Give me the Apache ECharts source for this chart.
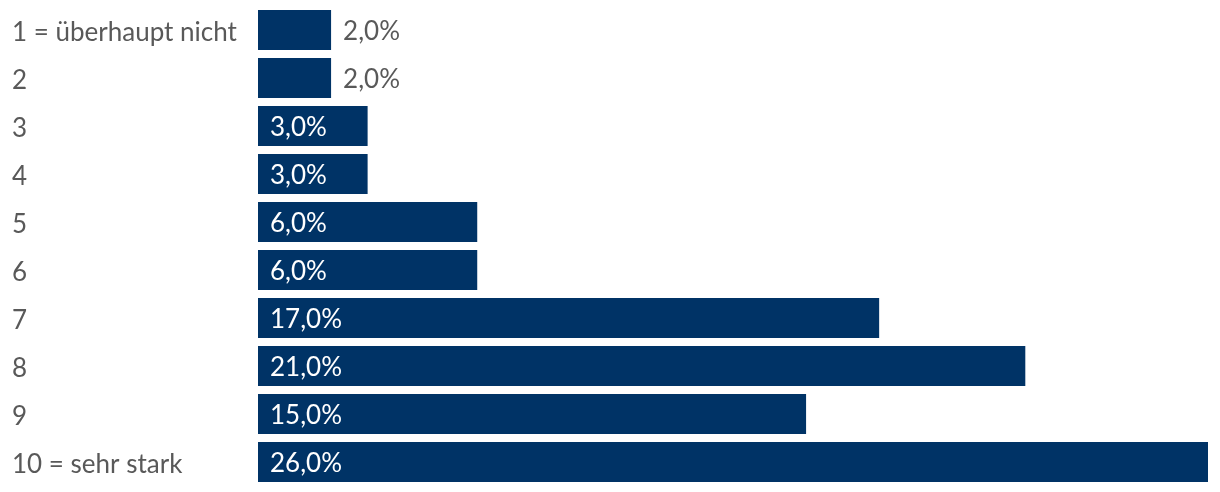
<!DOCTYPE html>
<html><head><meta charset="utf-8">
<script src="https://cdn.jsdelivr.net/npm/echarts@6/dist/echarts.min.js"></script>
<style>html,body{margin:0;padding:0;background:#fff}#c{width:1220px;height:492px}</style>
</head><body><div id="c"></div>
<script>
const categories = ["1 = überhaupt nicht","2","3","4","5","6","7","8","9","10 = sehr stark"];
const values = [2,2,3,3,6,6,17,21,15,26];
const insideThreshold = 3;

const chart = echarts.init(document.getElementById('c'), null, {renderer:'canvas'});
const FONT = 'Lato';
chart.setOption({
  animation:false,
  grid:{left:258,right:12,top:6,bottom:6,containLabel:false},
  xAxis:{type:'value',min:0,max:26,show:false},
  yAxis:{type:'category',inverse:true,data:categories,
    axisLine:{show:false},axisTick:{show:false},splitLine:{show:false},
    axisLabel:{align:'left',margin:246,color:'#595959',fontFamily:FONT,fontSize:26,
      formatter:v=>'{a|'+v+'}',
      rich:{a:{fontFamily:FONT,fontSize:26,color:'#595959',padding:[5,0,0,0]}}}},
  series:[{type:'bar',barCategoryGap:'16.7%',
    data:values.map(v=>({value:v,
      label:v>=insideThreshold?{position:'insideLeft',distance:12,color:'#ffffff',offset:[0,2]}:{position:'right',distance:12,color:'#595959',offset:[0,2]}})),
    itemStyle:{color:'#003366'},
    label:{show:true,fontFamily:FONT,fontSize:26,
      formatter:p=>p.value.toFixed(1).replace('.',',')+'%'}}]
});
</script></body></html>
